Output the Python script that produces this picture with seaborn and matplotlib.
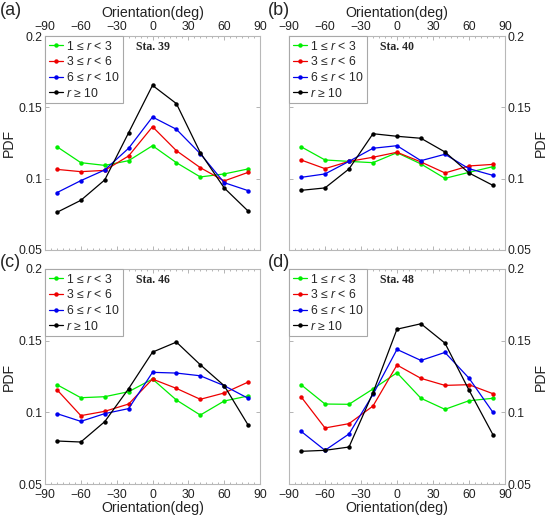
import numpy as np
import pandas as pd
import matplotlib
matplotlib.use('Agg')
import matplotlib.pyplot as plt
import seaborn as sns
from matplotlib.ticker import MultipleLocator

sns.set_style('white')
plt.rcParams['font.family'] = ['Liberation Sans', 'DejaVu Sans']
plt.rcParams['mathtext.fontset'] = 'custom'
plt.rcParams['mathtext.rm'] = 'Liberation Sans'
plt.rcParams['mathtext.it'] = 'Liberation Sans:italic'

# orientation bins (deg)
orientation = [-80, -60, -40, -20, 0, 20, 40, 60, 80]

# PDF values, one list per r-range
sta39_r1 = [0.1224, 0.1112, 0.1093, 0.1126, 0.1231, 0.1112, 0.1012, 0.1033, 0.1068]
sta39_r3 = [0.1065, 0.1049, 0.1058, 0.1159, 0.1364, 0.1196, 0.1077, 0.0984, 0.1044]
sta39_r6 = [0.0902, 0.0986, 0.1061, 0.1213, 0.1432, 0.1346, 0.1175, 0.0972, 0.0916]
sta39_r10 = [0.0764, 0.0848, 0.0991, 0.1322, 0.1654, 0.1526, 0.1182, 0.0935, 0.0773]

sta40_r1 = [0.1224, 0.1131, 0.1121, 0.1112, 0.1182, 0.1103, 0.1002, 0.1044, 0.1084]
sta40_r3 = [0.1131, 0.1070, 0.1121, 0.1150, 0.1185, 0.1117, 0.1040, 0.1089, 0.1100]
sta40_r6 = [0.1009, 0.1033, 0.1121, 0.1213, 0.1231, 0.1126, 0.1171, 0.1070, 0.1023]
sta40_r10 = [0.0918, 0.0935, 0.1068, 0.1315, 0.1297, 0.1283, 0.1187, 0.1040, 0.0953]

sta46_r1 = [0.1193, 0.1102, 0.1109, 0.1144, 0.1232, 0.1086, 0.0981, 0.1079, 0.1114]
sta46_r3 = [0.1158, 0.0977, 0.1007, 0.1058, 0.1232, 0.1167, 0.1091, 0.1135, 0.1211]
sta46_r6 = [0.0991, 0.0937, 0.0991, 0.1026, 0.1279, 0.1274, 0.1255, 0.1186, 0.1098]
sta46_r10 = [0.0800, 0.0793, 0.0935, 0.1165, 0.1420, 0.1490, 0.1332, 0.1186, 0.0912]

sta48_r1 = [0.1193, 0.1058, 0.1056, 0.1163, 0.1276, 0.1098, 0.1021, 0.1081, 0.1098]
sta48_r3 = [0.1109, 0.0891, 0.0921, 0.1044, 0.1330, 0.1237, 0.1188, 0.1193, 0.1130]
sta48_r6 = [0.0868, 0.0735, 0.0849, 0.1125, 0.1439, 0.1362, 0.1418, 0.1239, 0.1000]
sta48_r10 = [0.0728, 0.0735, 0.0758, 0.1137, 0.1580, 0.1618, 0.1483, 0.1156, 0.0844]

ranges = ['1 \u2264 $r$ < 3', '3 \u2264 $r$ < 6', '6 \u2264 $r$ < 10', '$r$ \u2265 10']
colors = ['#00ee00', '#ee0000', '#0000ee', 'black']
stations = ['Sta. 39', 'Sta. 40', 'Sta. 46', 'Sta. 48']
panel_labels = ['(a)', '(b)', '(c)', '(d)']

station_data = [
    [sta39_r1, sta39_r3, sta39_r6, sta39_r10],
    [sta40_r1, sta40_r3, sta40_r6, sta40_r10],
    [sta46_r1, sta46_r3, sta46_r6, sta46_r10],
    [sta48_r1, sta48_r3, sta48_r6, sta48_r10],
]

fig = plt.figure(figsize=(5.48, 5.21), dpi=100)

# axes rects [left, bottom, width, height]
rects = [
    [0.0821, 0.5202, 0.3924, 0.4107],
    [0.5274, 0.5202, 0.3940, 0.4107],
    [0.0821, 0.0710, 0.3924, 0.4127],
    [0.5274, 0.0710, 0.3940, 0.4127],
]
label_pos = [(0.0, 0.997), (0.489, 0.997), (0.0, 0.512), (0.489, 0.512)]

for i in range(4):
    ax = fig.add_axes(rects[i])
    rows = []
    for r, vals in zip(ranges, station_data[i]):
        for x, v in zip(orientation, vals):
            rows.append({'Orientation': x, 'PDF': v, 'range': r})
    df = pd.DataFrame(rows)
    sns.lineplot(data=df, x='Orientation', y='PDF', hue='range',
                 palette=colors, marker='o', markersize=3.2, markeredgewidth=0,
                 linewidth=0.9, ax=ax)

    ax.set_xlim(-90, 90)
    ax.set_ylim(0.05, 0.2)
    ax.set_xticks([-90, -60, -30, 0, 30, 60, 90])
    ax.set_xticklabels(['\u221290', '\u221260', '\u221230', '0', '30', '60', '90'])
    ax.set_yticks([0.05, 0.1, 0.15, 0.2])
    ax.set_yticklabels(['0.05', '0.1', '0.15', '0.2'])
    ax.xaxis.set_minor_locator(MultipleLocator(5))

    for s in ax.spines.values():
        s.set_color('#b8b8b8')
        s.set_linewidth(0.8)
    ax.tick_params(which='both', direction='in', color='#a8a8a8',
                   labelsize=8.8, pad=2, width=0.6, labelcolor='#222222')
    ax.tick_params(which='major', length=3)
    ax.tick_params(which='minor', length=1.5)
    ax.tick_params(axis='x', which='both', top=True, bottom=True)
    ax.tick_params(axis='y', which='both', left=True, right=True)

    if i < 2:
        ax.xaxis.set_label_position('top')
        ax.xaxis.tick_top()
        ax.tick_params(axis='x', which='both', bottom=True)
    else:
        ax.tick_params(axis='x', pad=3.5)
    if i % 2 == 1:
        ax.yaxis.set_label_position('right')
        ax.yaxis.tick_right()
        ax.tick_params(axis='y', which='both', left=True)

    ax.set_xlabel('Orientation(deg)', fontsize=10.2, labelpad=3 if i < 2 else 0,
                  color='#222222')
    ax.set_ylabel('PDF', fontsize=10.2, labelpad=2, color='#222222')

    leg = ax.legend(loc='upper left', fontsize=8.8, frameon=True, fancybox=False,
                    borderaxespad=0, handlelength=1.2, handletextpad=0.2,
                    borderpad=0.3, labelspacing=0.22, framealpha=1)
    leg.get_frame().set_edgecolor('#a8a8a8')
    leg.get_frame().set_linewidth(0.8)

    ax.text(0.5, 0.975, stations[i], transform=ax.transAxes, ha='center', va='top',
            fontsize=8.5, fontweight='bold', family='Liberation Serif', zorder=10)

    fig.text(label_pos[i][0], label_pos[i][1], panel_labels[i], fontsize=13,
             ha='left', va='top')

fig.savefig('out.png', dpi=100)
